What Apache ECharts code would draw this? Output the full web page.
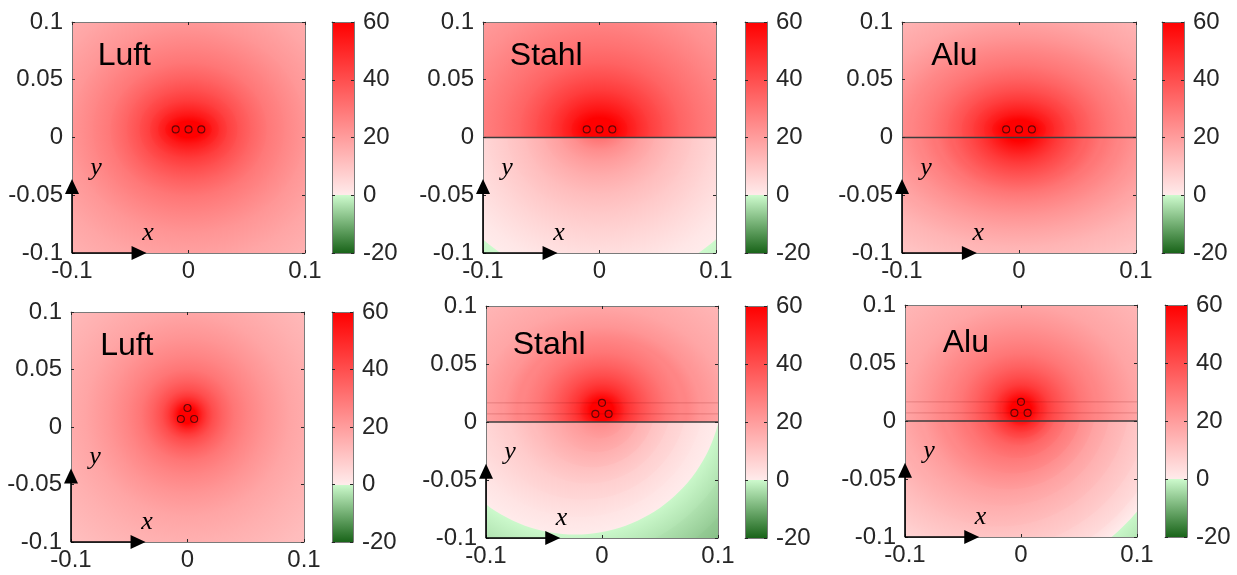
<!DOCTYPE html>
<html>
<head>
<meta charset="utf-8">
<title>Feldverteilung Luft / Stahl / Alu</title>
<script src="https://cdn.jsdelivr.net/npm/echarts@6/dist/echarts.min.js"></script>
<style>
    html, body { margin: 0; padding: 0; background: #fff; }
    #main { width: 1237px; height: 575px; }
</style>
</head>
<body>
<div id="main"></div>
<script>
// tick labels
var xTicks = [-0.1, 0, 0.1];
var yTicks = [-0.1, -0.05, 0, 0.05, 0.1];
var cbTicks = [-20, 0, 20, 40, 60];

// conductor centres
var condFlat = [[-0.011, 0.007], [0, 0.007], [0.011, 0.007]];
var condTrefoil = [[0, 0.0165], [-0.0057, 0.007], [0.0057, 0.007]];

// contour rings, innermost first: [value, rx, ry, cx, cy]
var luftTop = [
    [60, 0.014, 0.007, 0, 0.007], [55, 0.02, 0.012, 0, 0.007], [50, 0.026, 0.018, 0, 0.007],
    [45, 0.033, 0.025, 0, 0.007], [40, 0.042, 0.034, 0, 0.007], [35, 0.053, 0.045, 0, 0.007],
    [30, 0.067, 0.058, 0, 0.007], [26, 0.082, 0.073, 0, 0.007], [22, 0.1, 0.09, 0, 0.007],
    [18, 0.125, 0.115, 0, 0.007], [15, 0.15, 0.14, 0, 0.007], [12, 0.18, 0.17, 0, 0.007]
];
var stahlTopUp = [
    [60, 0.016, 0.01, 0, 0.007], [55, 0.024, 0.017, 0, 0.007], [50, 0.032, 0.025, 0, 0.007],
    [45, 0.042, 0.034, 0, 0.007], [40, 0.054, 0.045, 0, 0.007], [35, 0.068, 0.058, 0, 0.007],
    [31, 0.084, 0.073, 0, 0.007], [27, 0.103, 0.09, 0, 0.007], [23, 0.125, 0.11, 0, 0.007],
    [20, 0.15, 0.13, 0, 0.007], [17, 0.18, 0.16, 0, 0.007]
];
var stahlTopLow = [
    [30, 0.013, 0.009, 0, 0.007], [24, 0.024, 0.018, 0, 0.007], [20, 0.035, 0.028, 0, 0.007],
    [16, 0.048, 0.04, 0, 0.007], [12, 0.064, 0.056, 0, 0.007], [9, 0.08, 0.072, 0, 0.007],
    [6, 0.097, 0.09, 0, 0.007], [3, 0.115, 0.108, 0, 0.007], [1, 0.13, 0.122, 0, 0.007],
    [0, 0.143, 0.133, 0, 0.007], [-2, 0.165, 0.155, 0, 0.007], [-4, 0.19, 0.18, 0, 0.007]
];
var aluTopUp = [
    [60, 0.016, 0.008, 0, 0.007], [55, 0.023, 0.013, 0, 0.007], [50, 0.03, 0.019, 0, 0.007],
    [45, 0.039, 0.026, 0, 0.007], [40, 0.049, 0.034, 0, 0.007], [35, 0.061, 0.044, 0, 0.007],
    [30, 0.076, 0.056, 0, 0.007], [26, 0.092, 0.068, 0, 0.007], [22, 0.11, 0.08, 0, 0.007],
    [18, 0.13, 0.095, 0, 0.007], [15, 0.152, 0.112, 0, 0.007], [12, 0.18, 0.135, 0, 0.007],
    [10, 0.21, 0.16, 0, 0.007]
];
var aluTopLow = [
    [60, 0.014, 0.01, 0, 0.007], [55, 0.02, 0.016, 0, 0.007], [50, 0.027, 0.022, 0, 0.007],
    [45, 0.035, 0.029, 0, 0.007], [40, 0.045, 0.037, 0, 0.007], [35, 0.057, 0.046, 0, 0.007],
    [30, 0.071, 0.055, 0, 0.007], [26, 0.086, 0.064, 0, 0.007], [22, 0.103, 0.075, 0, 0.007],
    [18, 0.123, 0.088, 0, 0.007], [14, 0.146, 0.102, 0, 0.007], [11, 0.17, 0.12, 0, 0.007],
    [8, 0.2, 0.145, 0, 0.007], [6, 0.23, 0.17, 0, 0.007]
];
var luftBot = [
    [60, 0.007, 0.007, 0, 0.0103], [55, 0.01, 0.01, 0, 0.0103], [50, 0.013, 0.013, 0, 0.0103],
    [45, 0.017, 0.017, 0, 0.0103], [40, 0.022, 0.022, 0, 0.0103], [35, 0.03, 0.03, 0, 0.0103],
    [30, 0.04, 0.04, 0, 0.0103], [26, 0.052, 0.052, 0, 0.0103], [22, 0.068, 0.068, 0, 0.0103],
    [18, 0.088, 0.088, 0, 0.0103], [15, 0.11, 0.11, 0, 0.0103], [12, 0.14, 0.14, 0, 0.0103],
    [10, 0.17, 0.17, 0, 0.0103]
];
var stahlBotUp = [
    [60, 0.01, 0.009, 0, 0.0103], [55, 0.014, 0.013, 0, 0.0103], [50, 0.019, 0.017, 0, 0.0103],
    [45, 0.025, 0.023, 0, 0.0103], [40, 0.033, 0.03, 0, 0.0103], [35, 0.043, 0.039, 0, 0.0103],
    [30, 0.055, 0.05, 0, 0.0103], [26, 0.068, 0.062, 0, 0.0103], [22, 0.085, 0.072, 0, 0.0103],
    [18, 0.106, 0.088, 0, 0.0103], [15, 0.13, 0.11, 0, 0.0103], [12, 0.16, 0.135, 0, 0.0103],
    [10, 0.19, 0.16, 0, 0.0103]
];
var stahlBotLow = [
    [24, 0.012, 0.012, 0, 0.009], [20, 0.024, 0.024, -0.002, 0.01], [16, 0.038, 0.038, -0.005, 0.012],
    [12, 0.054, 0.054, -0.008, 0.015], [8, 0.072, 0.072, -0.012, 0.019], [5, 0.09, 0.09, -0.016, 0.023],
    [2, 0.109, 0.109, -0.02, 0.027], [0, 0.127, 0.127, -0.023, 0.03], [-3, 0.15, 0.15, -0.025, 0.032],
    [-6, 0.172, 0.172, -0.027, 0.034], [-9, 0.2, 0.2, -0.03, 0.036]
];
var aluBotUp = [
    [60, 0.009, 0.008, 0, 0.0103], [55, 0.013, 0.012, 0, 0.0103], [50, 0.017, 0.016, 0, 0.0103],
    [45, 0.023, 0.021, 0, 0.0103], [40, 0.03, 0.028, 0, 0.0103], [35, 0.04, 0.037, 0, 0.0103],
    [30, 0.052, 0.048, 0, 0.0103], [26, 0.065, 0.06, 0, 0.0103], [22, 0.082, 0.074, 0, 0.0103],
    [18, 0.1, 0.09, 0, 0.0103], [15, 0.125, 0.112, 0, 0.0103], [12, 0.155, 0.14, 0, 0.0103],
    [10, 0.18, 0.165, 0, 0.0103]
];
var aluBotLow = [
    [55, 0.012, 0.012, 0, 0.0103], [50, 0.015, 0.015, 0, 0.0103], [45, 0.02, 0.02, 0, 0.0105],
    [40, 0.026, 0.026, -0.001, 0.011], [35, 0.033, 0.033, -0.002, 0.012], [30, 0.045, 0.045, -0.004, 0.013],
    [25, 0.06, 0.06, -0.007, 0.015], [20, 0.076, 0.076, -0.011, 0.017], [16, 0.093, 0.093, -0.015, 0.02],
    [12, 0.113, 0.113, -0.019, 0.022], [8, 0.135, 0.135, -0.023, 0.025], [4, 0.155, 0.155, -0.027, 0.028],
    [0, 0.169, 0.169, -0.03, 0.03], [-3, 0.19, 0.19, -0.032, 0.032], [-6, 0.215, 0.215, -0.034, 0.034]
];

// colour map: green below 0, white-to-red above
var GREEN_DARK = [25, 100, 25], GREEN_LIGHT = [205, 250, 205];
var RED_LIGHT = [255, 235, 235], RED_FULL = [255, 0, 0];
var cbMin = cbTicks[0], cbMax = cbTicks[cbTicks.length - 1];

function mix(a, b, t) {
    t = Math.max(0, Math.min(1, t));
    return 'rgb(' + Math.round(a[0] + (b[0] - a[0]) * t) + ',' +
        Math.round(a[1] + (b[1] - a[1]) * t) + ',' + Math.round(a[2] + (b[2] - a[2]) * t) + ')';
}
function cmap(v, dir) {
    if (v < 0 || (v === 0 && dir < 0)) return mix(GREEN_DARK, GREEN_LIGHT, (v - cbMin) / (0 - cbMin));
    return mix(RED_LIGHT, RED_FULL, v / cbMax);
}

var panels = [
    {plot: [72, 22, 233, 231], cbar: [332, 22, 22, 231], name: 'Luft', namePos: [-0.078, 0.070], cond: condFlat, full: luftTop},
    {plot: [483, 22, 233, 231], cbar: [745, 22, 22, 231], name: 'Stahl', namePos: [-0.077, 0.070], cond: condFlat, upper: stahlTopUp, lower: stahlTopLow},
    {plot: [902, 22, 234, 231], cbar: [1162, 22, 22, 231], name: 'Alu', namePos: [-0.075, 0.070], cond: condFlat, upper: aluTopUp, lower: aluTopLow},
    {plot: [71, 312, 233, 230], cbar: [332, 312, 21, 230], name: 'Luft', namePos: [-0.075, 0.070], cond: condTrefoil, full: luftBot},
    {plot: [486, 306, 232, 232], cbar: [745, 306, 22, 232], name: 'Stahl', namePos: [-0.077, 0.066], cond: condTrefoil, upper: stahlBotUp, lower: stahlBotLow, guides: true},
    {plot: [905, 305, 232, 232], cbar: [1165, 305, 22, 232], name: 'Alu', namePos: [-0.0675, 0.067], cond: condTrefoil, upper: aluBotUp, lower: aluBotLow, guides: true}
];

var xMin = xTicks[0], xMax = xTicks[xTicks.length - 1];
var yMin = yTicks[0], yMax = yTicks[yTicks.length - 1];
var arrowTip = -0.036;
var labelFont = 'Liberation Sans, Arial, sans-serif';
var boxColor = '#7a7a7a', textColor = '#262626';

function ringData(rows) {
    var out = [];
    for (var i = rows.length - 1; i >= 0; i--) {
        var r = rows[i], inner = rows[i - 1];
        out.push([r[3], r[4], r[1], r[2], r[0], inner ? inner[0] : r[0], inner ? inner[2] : 0]);
    }
    return out;
}

function makeRing(side) {
    return function (params, api) {
        var c = api.coord([api.value(0), api.value(1)]);
        var s = api.size([api.value(2), api.value(3)]);
        var v = api.value(4), vIn = api.value(5), ryIn = api.value(6);
        var r = s[1];
        var plateY = api.coord([0, 0])[1];
        var pts = [];
        for (var k = 0; k < 144; k++) {
            var t = 2 * Math.PI * k / 144;
            var py = c[1] + r * Math.sin(t);
            if (side > 0) py = Math.min(py, plateY);
            if (side < 0) py = Math.max(py, plateY);
            pts.push([c[0] + r * Math.cos(t), py]);
        }
        var fill;
        if (ryIn > 0) {
            var off = Math.min(ryIn / api.value(3), 0.999);
            fill = new echarts.graphic.RadialGradient(c[0], c[1], r, [
                {offset: 0, color: cmap(vIn, -1)},
                {offset: off, color: cmap(vIn, -1)},
                {offset: 1, color: cmap(v, 1)}
            ], true);
        } else {
            fill = cmap(v, 1);
        }
        return {
            type: 'polygon', shape: {points: pts},
            scaleX: s[0] / s[1], originX: c[0], originY: c[1],
            style: {fill: fill}, silent: true
        };
    };
}

function axisPair(kind, gi, min, max, interval, labelSide, showLabel) {
    var base = {
        type: 'value', gridIndex: gi, min: min, max: max, interval: interval, z: 4,
        splitLine: {show: false},
        axisLine: {show: true, onZero: false, lineStyle: {color: boxColor, width: 1}},
        axisTick: {show: true, inside: true, length: 3, lineStyle: {color: textColor}},
        axisLabel: {show: false}
    };
    var a = echarts.util.merge({}, base, true);
    var b = echarts.util.merge({}, base, true);
    a.position = labelSide[0];
    b.position = labelSide[1];
    if (showLabel === 0 || showLabel === 1) {
        var t = showLabel === 0 ? a : b;
        t.axisLabel = {show: true, fontSize: 24, fontFamily: labelFont, color: textColor,
            margin: kind === 'x' ? 6 : 9};
    }
    return [a, b];
}

var grids = [], xAxes = [], yAxes = [], series = [];

panels.forEach(function (p, i) {
    var gPlot = grids.length;
    grids.push({left: p.plot[0], top: p.plot[1], width: p.plot[2], height: p.plot[3], containLabel: false, outerBoundsMode: 'none'});
    var gBar = grids.length;
    grids.push({left: p.cbar[0], top: p.cbar[1], width: p.cbar[2], height: p.cbar[3], containLabel: false, outerBoundsMode: 'none'});

    var xi = xAxes.length, yi = yAxes.length;
    xAxes.push.apply(xAxes, axisPair('x', gPlot, xMin, xMax, xTicks[1] - xTicks[0], ['bottom', 'top'], 0));
    yAxes.push.apply(yAxes, axisPair('y', gPlot, yMin, yMax, yTicks[1] - yTicks[0], ['left', 'right'], 0));
    var bxi = xAxes.length, byi = yAxes.length;
    var bx = axisPair('x', gBar, 0, 1, 1, ['bottom', 'top'], -1);
    bx.forEach(function (a) { a.axisTick.show = false; });
    xAxes.push.apply(xAxes, bx);
    yAxes.push.apply(yAxes, axisPair('y', gBar, cbMin, cbMax, cbTicks[1] - cbTicks[0], ['left', 'right'], 1));

    var common = {xAxisIndex: xi, yAxisIndex: yi};

    if (p.full) {
        series.push(echarts.util.extend({type: 'custom', z: 1, clip: true, silent: true,
            renderItem: makeRing(0), data: ringData(p.full)}, common));
    } else {
        series.push(echarts.util.extend({type: 'custom', z: 1, clip: true, silent: true,
            renderItem: makeRing(1), data: ringData(p.upper)}, common));
        series.push(echarts.util.extend({type: 'custom', z: 1, clip: true, silent: true,
            renderItem: makeRing(-1), data: ringData(p.lower)}, common));
    }

    if (p.guides) {
        [p.cond[0][1], p.cond[1][1]].forEach(function (gy) {
            series.push(echarts.util.extend({type: 'line', z: 3, silent: true, symbol: 'none',
                lineStyle: {color: 'rgba(120,0,0,0.2)', width: 1},
                data: [[xMin, gy], [xMax, gy]]}, common));
        });
    }
    if (!p.full) {
        series.push(echarts.util.extend({type: 'line', z: 3, silent: true, symbol: 'none',
            lineStyle: {color: '#3c3c3c', width: 1.3},
            data: [[xMin, 0], [xMax, 0]]}, common));
    }

    series.push(echarts.util.extend({type: 'scatter', z: 5, silent: true, symbol: 'circle', symbolSize: 7,
        itemStyle: {color: 'rgba(0,0,0,0)', borderColor: '#3a0808', borderWidth: 1.1},
        data: p.cond}, common));

    series.push(echarts.util.extend({type: 'custom', z: 6, clip: false, silent: true, data: [[xMin, yMin]],
        renderItem: function (params, api) {
            var o = api.coord([xMin, yMin]);
            var ty = api.coord([xMin, arrowTip]);
            var tx = api.coord([arrowTip, yMin]);
            var yl = api.coord([-0.0794, -0.0264]);
            var xl = api.coord([-0.0348, -0.0827]);
            var nm = api.coord(p.namePos);
            var L = 15, W = 7;
            var mathFont = {fontFamily: 'Liberation Serif, serif', fontStyle: 'italic', fontSize: 26, fill: '#000',
                align: 'center', verticalAlign: 'middle'};
            return {type: 'group', children: [
                {type: 'line', shape: {x1: o[0], y1: o[1], x2: ty[0], y2: ty[1] + L - 1}, style: {stroke: '#000', lineWidth: 1.6}},
                {type: 'line', shape: {x1: o[0], y1: o[1], x2: tx[0] - L + 1, y2: tx[1]}, style: {stroke: '#000', lineWidth: 1.6}},
                {type: 'polygon', shape: {points: [[ty[0], ty[1]], [ty[0] - W, ty[1] + L], [ty[0] + W, ty[1] + L]]}, style: {fill: '#000'}},
                {type: 'polygon', shape: {points: [[tx[0], tx[1]], [tx[0] - L, tx[1] - W], [tx[0] - L, tx[1] + W]]}, style: {fill: '#000'}},
                {type: 'text', x: yl[0], y: yl[1], style: echarts.util.extend({text: 'y'}, mathFont)},
                {type: 'text', x: xl[0], y: xl[1], style: echarts.util.extend({text: 'x'}, mathFont)},
                {type: 'text', x: nm[0], y: nm[1], style: {text: p.name, fontFamily: labelFont, fontSize: 32,
                    fill: '#000', align: 'left', verticalAlign: 'middle'}}
            ]};
        }}, common));

    // colour bar
    series.push({type: 'custom', xAxisIndex: bxi, yAxisIndex: byi, z: 1, silent: true, clip: true,
        data: [[0, cbMin, 1, cbMax]],
        renderItem: function (params, api) {
            var a = api.coord([api.value(0), api.value(3)]);
            var b = api.coord([api.value(2), api.value(1)]);
            var zOff = (cbMax - 0) / (cbMax - cbMin);
            return {type: 'rect', shape: {x: a[0], y: a[1], width: b[0] - a[0], height: b[1] - a[1]},
                style: {fill: new echarts.graphic.LinearGradient(0, 0, 0, 1, [
                    {offset: 0, color: cmap(cbMax, 1)},
                    {offset: zOff, color: cmap(0, 1)},
                    {offset: zOff, color: cmap(0, -1)},
                    {offset: 1, color: cmap(cbMin, 1)}
                ])}};
        }});
});

var chart = echarts.init(document.getElementById('main'));
chart.setOption({
    animation: false,
    backgroundColor: '#fff',
    grid: grids,
    xAxis: xAxes,
    yAxis: yAxes,
    series: series
});
</script>
</body>
</html>
